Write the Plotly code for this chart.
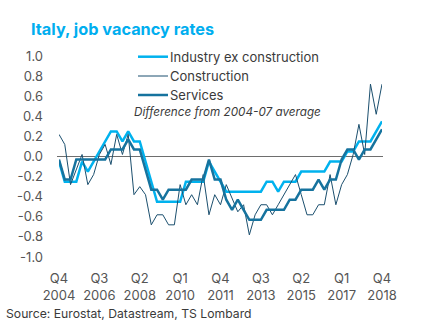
import plotly.graph_objects as go

quarters = list(range(57))  # 2004Q4 .. 2018Q4
tick_pos = [0, 7, 14, 21, 28, 35, 42, 49, 56]
tick_text = ["Q4<br>2004", "Q3<br>2006", "Q2<br>2008", "Q1<br>2010", "Q4<br>2011",
             "Q3<br>2013", "Q2<br>2015", "Q1<br>2017", "Q4<br>2018"]
y_ticks = [1.0, 0.8, 0.6, 0.4, 0.2, 0.0, -0.2, -0.4, -0.6, -0.8, -1.0]
y_tick_text = ["1.0", "0.8", "0.6", "0.4", "0.2", "0.0", "-0.2", "-0.4", "-0.6", "-0.8", "-1.0"]

series_names = ["Industry ex construction", "Construction", "Services"]
industry = [-0.05, -0.25, -0.25, -0.25, -0.05, -0.15, -0.05, 0.05, 0.15, 0.25,
            0.25, 0.15, 0.25, 0.15, 0.15, -0.05, -0.25, -0.45, -0.45, -0.45,
            -0.45, -0.45, -0.25, -0.25, -0.25, -0.25, -0.05, -0.15, -0.25, -0.35,
            -0.35, -0.35, -0.35, -0.35, -0.35, -0.35, -0.25, -0.25, -0.35, -0.25,
            -0.25, -0.25, -0.15, -0.15, -0.15, -0.15, -0.15, -0.05, -0.05, -0.05,
            0.05, 0.05, 0.15, 0.15, 0.15, 0.25, 0.35]
construction = [0.22, 0.12, -0.28, -0.13, 0.02, -0.28, -0.18, 0.02, 0.12, -0.08,
                0.22, 0.02, 0.22, -0.38, -0.30, -0.38, -0.68, -0.58, -0.58, -0.68,
                -0.68, -0.28, -0.48, -0.38, -0.48, -0.18, -0.58, -0.38, -0.48, -0.28,
                -0.42, -0.55, -0.48, -0.78, -0.58, -0.48, -0.48, -0.58, -0.48, -0.38,
                -0.28, -0.18, -0.38, -0.58, -0.58, -0.48, -0.48, -0.18, -0.48, -0.28,
                -0.18, 0.02, 0.32, 0.02, 0.72, 0.42, 0.72]
services = [-0.03, -0.23, -0.23, -0.03, -0.03, -0.03, -0.03, -0.03, -0.03, 0.07,
            0.07, 0.07, 0.17, 0.07, 0.07, -0.13, -0.33, -0.33, -0.43, -0.33,
            -0.33, -0.33, -0.33, -0.23, -0.23, -0.23, -0.03, -0.23, -0.23, -0.43,
            -0.53, -0.43, -0.53, -0.63, -0.63, -0.63, -0.53, -0.53, -0.53, -0.53,
            -0.43, -0.43, -0.33, -0.33, -0.33, -0.23, -0.33, -0.23, -0.23, -0.03,
            0.07, 0.07, -0.03, 0.07, 0.07, 0.17, 0.27]

FONT = "Inter"
TXT = "#3a3a3a"
TICK = "#555555"
colors = ["#00B2EE", "#1B4F6E", "#16739E"]
widths = [2.5, 1, 2.5]

W, H = 421, 331
L, R, T, B = 59, 39, 56, 74
PW, PH = W - L - R, H - T - B


def px(xp):
    return (xp - L) / PW


def py(yp):
    return (H - B - yp) / PH


fig = go.Figure()
for name, vals, c, w in zip(series_names, [industry, construction, services], colors, widths):
    fig.add_trace(go.Scatter(x=quarters, y=vals, mode="lines", name=name,
                             line=dict(color=c, width=w), showlegend=False))

shapes = [dict(type="line", xref="paper", yref="y", x0=px(57), x1=px(383), y0=0, y1=0,
               line=dict(color="#6e6e6e", width=1), layer="below")]
annotations = [
    dict(text="<b>Italy, job vacancy rates</b>", xref="paper", yref="paper",
         x=px(29), y=py(29), xanchor="left", yanchor="middle", showarrow=False,
         font=dict(size=16.3, color="#00AEEF", family=FONT)),
    dict(text="<i>Difference from 2004-07 average</i>", xref="paper", yref="paper",
         x=px(132), y=py(112), xanchor="left", yanchor="middle", showarrow=False,
         font=dict(size=11.7, color=TXT, family=FONT)),
    dict(text="Source: Eurostat, Datastream, TS Lombard", xref="paper", yref="paper",
         x=px(4), y=py(313), xanchor="left", yanchor="middle", showarrow=False,
         font=dict(size=12.2, color=TXT, family=FONT)),
]
leg_y = [56.7, 76, 95]
for name, c, w, yy in zip(series_names, colors, widths, leg_y):
    shapes.append(dict(type="line", xref="paper", yref="paper", x0=px(138), x1=px(168),
                       y0=py(yy), y1=py(yy), line=dict(color=c, width=w)))
    annotations.append(dict(text=name, xref="paper", yref="paper", x=px(168), y=py(yy),
                            xanchor="left", yanchor="middle", showarrow=False,
                            font=dict(size=13, color=TXT, family=FONT)))

fig.update_layout(
    width=W, height=H,
    margin=dict(l=L, r=R, t=T, b=B, autoexpand=False),
    paper_bgcolor="white", plot_bgcolor="white",
    font=dict(family=FONT, size=13, color=TXT),
    showlegend=False,
    xaxis=dict(range=[0, 56], tickmode="array", tickvals=tick_pos, ticktext=tick_text,
               showgrid=False, zeroline=False, showline=False, ticks="",
               ticklabelstandoff=12,
               tickfont=dict(size=13, color=TICK), fixedrange=True),
    yaxis=dict(range=[-1.0, 1.0], tickmode="array", tickvals=y_ticks, ticktext=y_tick_text,
               showgrid=False, zeroline=False, showline=False, ticks="",
               ticklabelstandoff=15,
               tickfont=dict(size=13, color=TICK), fixedrange=True),
    shapes=shapes,
    annotations=annotations,
)
fig.write_html("out.html", config={"displayModeBar": False})
